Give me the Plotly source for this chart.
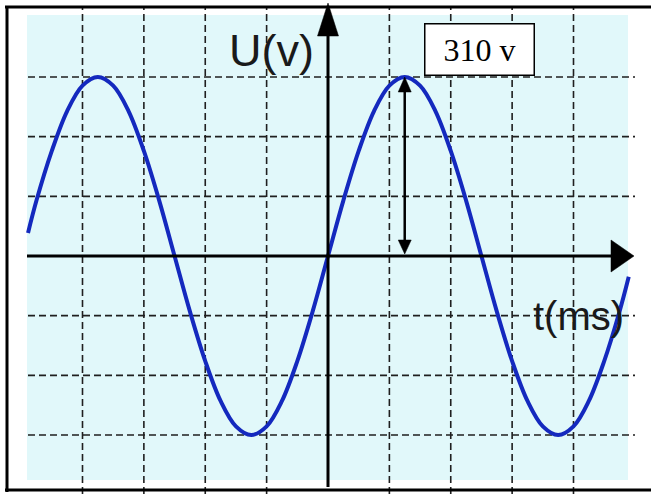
import plotly.graph_objects as go

# ---- data ----
t_ms = [-19.55, -19, -18, -17, -16, -15, -14, -13, -12, -11, -10, -9, -8, -7, -6, -5, -4, -3, -2, -1, 0,
        1, 2, 3, 4, 5, 6, 7, 8, 9, 10, 11, 12, 13, 14, 15, 16, 17, 18, 19, 19.6]
u_v = [40, 96, 182, 251, 295, 310, 295, 251, 182, 96, 0, -96, -182, -251, -295, -310, -295, -251, -182, -96, 0,
       96, 182, 251, 295, 310, 295, 251, 182, 96, 0, -96, -182, -251, -295, -310, -295, -251, -182, -96, -36]
grid_t = [-16, -12, -8, -4, 4, 8, 12, 16]
grid_u = [-310, -206.7, -103.3, 103.3, 206.7, 310]
peak_t = 5
peak_u = 310
peak_label = "310 v"
y_title = "U(v)"
x_title = "t(ms)"

# ---- geometry / styles ----
W, H = 651, 498
X0, Y0 = 328, 256          # pixel position of the origin
SX, SY = 15.344, 0.5774    # px per ms, px per V


def dx(px):
    return (px - X0) / SX


def dy(py):
    return (Y0 - py) / SY


GRID_COLOR = "#1f1f1f"
BG_COLOR = "#E1F8FA"
CURVE_COLOR = "#1429BE"

shapes = []
# light blue screen
shapes.append(dict(type="rect", xref="x", yref="y", x0=dx(27), x1=dx(628), y0=dy(480), y1=dy(15),
                   fillcolor=BG_COLOR, line=dict(width=0), layer="below"))
# dashed grid
for t in grid_t:
    shapes.append(dict(type="line", xref="x", yref="y", x0=t, x1=t, y0=dy(494), y1=dy(7),
                       line=dict(color=GRID_COLOR, width=1.6, dash="7px,4px"), layer="below"))
for u in grid_u:
    shapes.append(dict(type="line", xref="x", yref="y", x0=dx(28), x1=dx(635), y0=u, y1=u,
                       line=dict(color=GRID_COLOR, width=1.6, dash="7px,4px"), layer="below"))
# outer frame
shapes.append(dict(type="line", xref="paper", yref="paper", x0=5 / W, x1=1, y0=1 - 7 / H, y1=1 - 7 / H,
                   line=dict(color="black", width=3)))
shapes.append(dict(type="line", xref="paper", yref="paper", x0=7 / W, x1=7 / W, y0=1 - 6 / H, y1=1 - 492 / H,
                   line=dict(color="black", width=3)))
shapes.append(dict(type="line", xref="paper", yref="paper", x0=5 / W, x1=1, y0=1 - 490 / H, y1=1 - 490 / H,
                   line=dict(color="black", width=3)))
# axes
shapes.append(dict(type="line", xref="x", yref="y", x0=0, x1=0, y0=dy(487), y1=dy(33),
                   line=dict(color="black", width=3)))
shapes.append(dict(type="path", xref="x", yref="y",
                   path=f"M {dx(X0)},{dy(3)} L {dx(X0 - 10.5)},{dy(36)} L {dx(X0 + 10.5)},{dy(36)} Z",
                   fillcolor="black", line=dict(color="black", width=0.5)))
shapes.append(dict(type="line", xref="x", yref="y", x0=dx(27), x1=dx(613), y0=0, y1=0,
                   line=dict(color="black", width=3)))
shapes.append(dict(type="path", xref="x", yref="y",
                   path=f"M {dx(634)},{0} L {dx(611)},{dy(Y0 - 16)} L {dx(611)},{dy(Y0 + 16)} Z",
                   fillcolor="black", line=dict(color="black", width=0.5)))
# double arrow at the peak
shapes.append(dict(type="line", xref="x", yref="y", x0=peak_t, x1=peak_t, y0=8 / SY, y1=peak_u - 10 / SY,
                   line=dict(color="black", width=2.5)))
shapes.append(dict(type="path", xref="x", yref="y",
                   path=(f"M {peak_t},{peak_u} L {peak_t - 6.5 / SX},{peak_u - 15 / SY} "
                         f"L {peak_t + 6.5 / SX},{peak_u - 15 / SY} Z"),
                   fillcolor="black", line=dict(color="black", width=0.5)))
shapes.append(dict(type="path", xref="x", yref="y",
                   path=(f"M {peak_t},{2 / SY} L {peak_t - 6.5 / SX},{16 / SY} "
                         f"L {peak_t + 6.5 / SX},{16 / SY} Z"),
                   fillcolor="black", line=dict(color="black", width=0.5)))

fig = go.Figure()
fig.add_trace(go.Scatter(x=t_ms, y=u_v, mode="lines",
                         line=dict(color=CURVE_COLOR, width=4, shape="spline", smoothing=1.0),
                         hoverinfo="skip"))

sans = "Liberation Sans, Arial, sans-serif"
annotations = [
    dict(text=y_title, xref="paper", yref="paper", x=271 / W, y=1 - 50 / H, xanchor="center", yanchor="middle",
         showarrow=False, font=dict(family=sans, size=45, color="#1a1a1a")),
    dict(text=x_title, xref="paper", yref="paper", x=578 / W, y=1 - 316 / H, xanchor="center", yanchor="middle",
         showarrow=False, font=dict(family=sans, size=40, color="#1a1a1a")),
    dict(text=peak_label, xref="paper", yref="paper", x=479.5 / W, y=1 - 49.5 / H, xanchor="center",
         yanchor="middle", showarrow=False, width=106, height=48, align="center", valign="middle",
         bgcolor="white", bordercolor="black", borderwidth=1.5, borderpad=1,
         font=dict(family="Liberation Serif, Times New Roman, serif", size=32, color="black")),
]

fig.update_layout(
    width=W, height=H, margin=dict(l=0, r=0, t=0, b=0),
    paper_bgcolor="white", plot_bgcolor="white", showlegend=False,
    xaxis=dict(visible=False, range=[dx(0), dx(W)], fixedrange=True),
    yaxis=dict(visible=False, range=[dy(H), dy(0)], fixedrange=True),
    shapes=shapes, annotations=annotations,
)

fig.write_html("out.html", config={"displayModeBar": False},
               post_script="document.body.style.margin='0px';document.body.style.overflow='hidden';")
